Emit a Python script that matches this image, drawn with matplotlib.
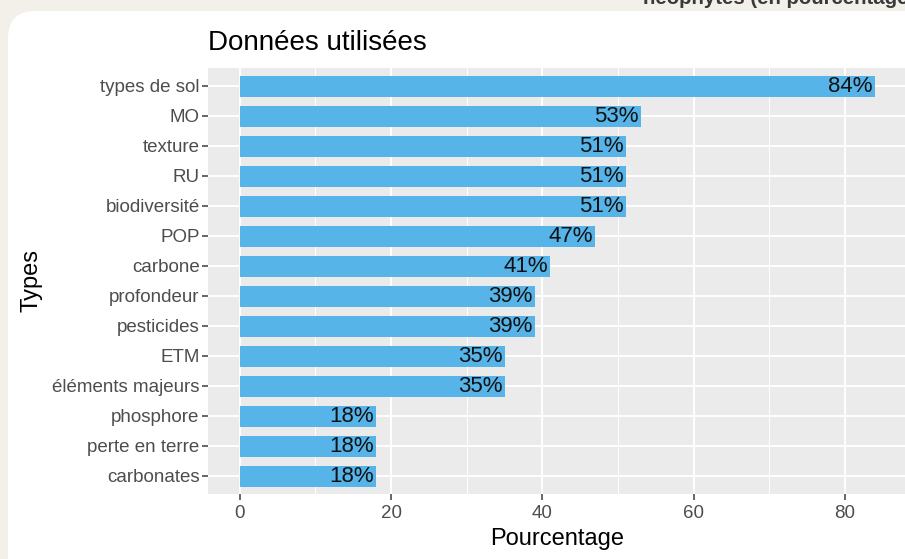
import matplotlib
matplotlib.use("Agg")
import matplotlib.pyplot as plt
from matplotlib.patches import FancyBboxPatch

categories = ["types de sol", "MO", "texture", "RU", "biodiversité", "POP", "carbone",
              "profondeur", "pesticides", "ETM", "éléments majeurs", "phosphore",
              "perte en terre", "carbonates"]
values = [84, 53, 51, 51, 51, 47, 41, 39, 39, 35, 35, 18, 18, 18]
xticks = [0, 20, 40, 60, 80]

plt.rcParams['font.family'] = ['Liberation Sans', 'DejaVu Sans']

W, H = 905, 559
fig = plt.figure(figsize=(W / 100, H / 100), dpi=100)
fig.patch.set_facecolor('#f3efe9')

# white rounded card
card = FancyBboxPatch((8 / W, -40 / H), (W + 40) / W, (H - 11 + 40) / H,
                      boxstyle="round,pad=0,rounding_size=0.03",
                      transform=fig.transFigure, facecolor='white', edgecolor='none',
                      mutation_aspect=W / H, zorder=-10)
fig.patches.append(card)

# cut-off heading at top
fig.text(643 / W, 1 - 4 / H, "néophytes (en pourcentage)", fontsize=14.7, fontweight='bold',
         color='#3a3a3a', ha='left', va='baseline', zorder=-5)

left, right = 208, 907
top, bottom = 68, 494
ax = fig.add_axes([left / W, 1 - bottom / H, (right - left) / W, (bottom - top) / H])
ax.set_zorder(1)
ax.set_facecolor('#EBEBEB')
n = len(categories)
ypos = list(range(n))[::-1]
ax.barh(ypos, values, height=0.7, color='#56B4E9', zorder=3)
for y, v in zip(ypos, values):
    ax.text(v - 0.3, y, f"{v}%", ha='right', va='center', fontsize=16, color='#111111', zorder=4)

ax.set_xlim(-4.2, 88.2)
ax.set_ylim(-0.6, n - 1 + 0.6)
ax.set_yticks(ypos)
ax.set_yticklabels(categories)
ax.set_xticks(xticks)
ax.set_xticks([10, 30, 50, 70], minor=True)
ax.grid(which='major', color='white', linewidth=1.4, zorder=1)
ax.grid(which='minor', axis='x', color='white', linewidth=0.7, zorder=1)
ax.set_axisbelow(True)
ax.tick_params(axis='both', which='major', colors='#4D4D4D', labelcolor='#4D4D4D',
               labelsize=13.5, length=4, width=1.2, pad=2)
ax.tick_params(axis='x', which='major', pad=4)
ax.tick_params(which='minor', length=0)
for s in ax.spines.values():
    s.set_visible(False)
ax.set_xlabel("Pourcentage", fontsize=17, color='black', labelpad=4)
ax.set_ylabel("Types", fontsize=17, color='black', labelpad=7)
ax.set_title("Données utilisées", fontsize=20, loc='left', color='black', pad=13)

fig.savefig("out.png", dpi=100, facecolor=fig.get_facecolor())
